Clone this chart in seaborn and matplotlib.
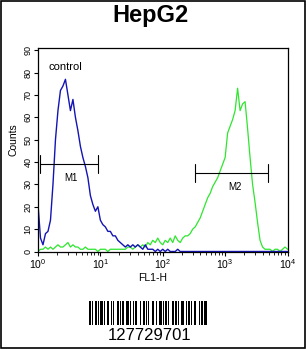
import numpy as np
import matplotlib
matplotlib.use("Agg")
import matplotlib.pyplot as plt
import seaborn as sns
from matplotlib.patches import Rectangle

# ============ Data ============
# 101 channels across 4 log decades (channel / 25 = log10 FL1-H)
channels = list(range(101))

control_counts = [
    21, 6, 3, 8, 9, 14, 30, 50, 63, 72,
    74, 77, 70, 63, 68, 60, 54, 47, 42, 38,
    33, 25, 21, 18, 20, 14, 12, 11, 9, 9,
    7, 7, 5, 4, 3, 2, 3, 2, 3, 2,
    3, 2, 1, 3, 1, 1, 1, 0, 1, 0,
    1, 0, 1, 0, 0, 0, 1, 0, 0, 0,
    0, 0, 0, 0, 0, 0, 0, 0, 0, 0,
    0, 0, 0, 0, 0, 0, 0, 0, 0, 0,
    0, 0, 0, 0, 0, 0, 0, 0, 0, 0,
    0, 0, 0, 0, 0, 0, 0, 0, 0, 0,
    0,
]

sample_counts = [
    0, 1, 1, 2, 1, 2, 1, 2, 3, 2,
    2, 3, 4, 2, 3, 2, 2, 1, 1, 2,
    1, 1, 1, 1, 0, 1, 1, 1, 0, 1,
    1, 1, 1, 1, 1, 1, 2, 2, 1, 2,
    3, 2, 3, 2, 4, 3, 5, 4, 6, 4,
    3, 5, 4, 6, 4, 7, 5, 4, 6, 7,
    7, 8, 10, 11, 13, 15, 18, 21, 24, 26,
    29, 31, 33, 36, 39, 42, 53, 56, 59, 63,
    73, 63, 66, 67, 55, 42, 30, 22, 13, 5,
    2, 1, 1, 1, 0, 1, 1, 0, 1, 2,
    1,
]

# gate markers: (label, left, right, level, label_x, label_y)
markers = [
    ("M1", 1.07, 9.06, 39, 3.36, 32.7),
    ("M2", 324, 4900, 35.3, 1430, 28.7),
]

# barcode module widths, alternating bar / space
barcode_modules = [
    2, 1, 1, 2, 2, 1, 1, 1, 3, 1, 1, 2, 2, 2, 1, 1, 1, 3, 2, 1,
    1, 1, 2, 2, 3, 1, 1, 2, 1, 1, 2, 3, 1, 2, 2, 1, 1, 1, 1, 3,
    2, 2, 1, 2, 3, 1, 1, 1, 2, 1, 1, 3, 2, 1, 2, 1, 1, 2, 3, 2,
    1, 1, 2, 1, 1, 2, 2, 3, 1, 1, 2, 1, 3, 2,
]
barcode_text = "127729701"

# ============ Style ============
sns.set_style("white")
plt.rcParams['font.family'] = ['Liberation Sans', 'DejaVu Sans']
plt.rcParams['mathtext.default'] = 'regular'
for key in ['text.color', 'axes.labelcolor', 'xtick.color', 'ytick.color']:
    plt.rcParams[key] = 'black'

fig = plt.figure(figsize=(3.06, 3.49), dpi=100)
ax = fig.add_axes([38 / 306, 97.5 / 349, 249.5 / 306, 203.5 / 349])

fl1 = 10 ** (np.array(channels) / 25)
df = {"FL1-H": fl1, "control": control_counts, "sample": sample_counts}
sns.lineplot(x=df["FL1-H"], y=df["sample"], ax=ax, color="#2ee62e", lw=0.9)
sns.lineplot(x=df["FL1-H"], y=df["control"], ax=ax, color="#1414b4", lw=1.0)

ax.set_xscale("log")
ax.set_xlim(1, 1e4)
ax.set_ylim(0, 91)
ax.set_yticks(range(0, 91, 10))
ax.set_xticks([1, 10, 100, 1000, 10000])

for sp in ax.spines.values():
    sp.set_color("black")
    sp.set_linewidth(0.9)

ax.tick_params(axis="both", which="both", direction="out", color="black",
               bottom=True, left=True, top=False, right=False)
ax.tick_params(axis="x", which="major", length=3, labelsize=7.5, pad=1)
ax.tick_params(axis="x", which="minor", length=2)
ax.tick_params(axis="y", which="major", length=3, labelsize=6.5, pad=1)
for lbl in ax.get_yticklabels():
    lbl.set_rotation(90)
    lbl.set_va("center")

ax.set_xlabel("FL1-H", fontsize=7.5)
ax.xaxis.set_label_coords(0.46, -0.105)
ax.set_ylabel("Counts", fontsize=7.5, labelpad=2)
ax.yaxis.set_label_coords(-0.08, 0.55)

ax.text(1.45, 82.6, "control", fontsize=8, va="center", ha="left")

for name, left, right, level, lx, ly in markers:
    ax.plot([left, right], [level, level], color="black", lw=0.8)
    ax.plot([left, left], [level - 4, level + 4], color="black", lw=0.8)
    ax.plot([right, right], [level - 4, level + 4], color="black", lw=0.8)
    ax.text(lx, ly, name, fontsize=7, ha="center", va="center")

fig.text(0.492, 0.957, "HepG2", fontsize=17, fontweight="bold",
         ha="center", va="center")

# ============ Barcode ============
bax = fig.add_axes([89 / 306, 24 / 349, 120 / 306, 24 / 349])
edges = np.concatenate([[0], np.cumsum(barcode_modules)])
bar_left = edges[:-1][::2]
bar_width = np.array(barcode_modules[::2])
bax.bar(bar_left, 1, width=bar_width, align="edge", color="black", linewidth=0)
bax.set_xlim(0, edges[-1])
bax.set_ylim(0, 1)
bax.axis("off")

fig.text(0.49, 1 - 340 / 349, barcode_text, fontsize=12, ha="center", va="baseline")

fig.patches.append(Rectangle((0.002, 0.002), 0.996, 0.995, transform=fig.transFigure,
                             fill=False, edgecolor="black", linewidth=1.2))

fig.savefig("out.png", dpi=100)
